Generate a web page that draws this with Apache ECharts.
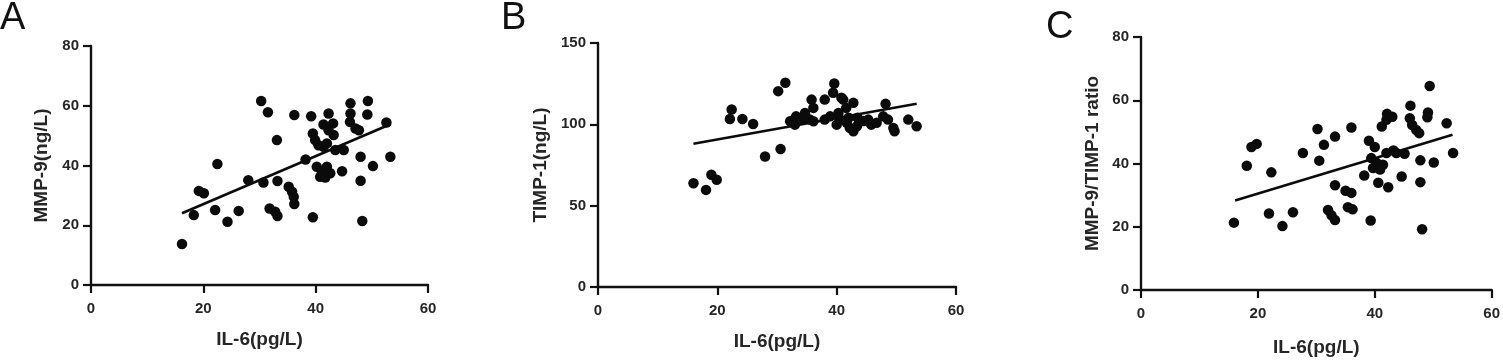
<!DOCTYPE html>
<html>
<head>
<meta charset="utf-8">
<script src="https://cdn.jsdelivr.net/npm/echarts@6/dist/echarts.min.js"></script>
<style>
html,body{margin:0;padding:0;background:#fff;}
#c{width:1503px;height:362px;}
</style>
</head>
<body>
<div id="c"></div>
<script>
// ---- Data ----
const panelLetters = ['A', 'B', 'C'];
const xName = 'IL-6(pg/L)';
const yNames = ['MMP-9(ng/L)', 'TIMP-1(ng/L)', 'MMP-9/TIMP-1 ratio'];
const xTicks = [0, 20, 40, 60];
const yTicksA = [0, 20, 40, 60, 80];
const yTicksB = [0, 50, 100, 150];
const yTicksC = [0, 20, 40, 60, 80];

const pointsA = [
  [16.2,13.7],[18.3,23.4],[19.2,31.5],[20.1,30.7],[22.1,25.1],[22.5,40.5],[24.3,21.2],[26.3,24.8],
  [28.0,35.1],[30.3,61.6],[30.7,34.3],[31.5,57.8],[31.8,25.6],[32.8,24.5],[33.2,23.1],[33.1,48.5],
  [33.2,34.8],[35.2,32.9],[35.8,31.2],[36.1,29.5],[36.2,27.1],[36.2,56.9],[38.2,42.0],[39.2,56.5],
  [39.5,22.7],[39.5,50.7],[39.9,48.5],[40.5,46.8],[41.4,46.3],[42.0,47.4],[40.2,39.6],[41.1,37.9],
  [42.0,39.6],[42.6,37.4],[40.8,36.2],[41.7,36.0],[41.4,53.7],[43.1,54.1],[42.3,51.8],[43.2,50.2],
  [42.3,57.4],[43.5,45.2],[45.0,45.2],[44.7,38.1],[46.2,60.8],[46.2,57.4],[46.1,54.6],[47.1,52.4],
  [47.7,51.8],[48.0,42.9],[48.0,34.9],[48.3,21.4],[49.3,61.6],[49.2,57.1],[50.2,39.8],[52.6,54.4],
  [53.3,42.9]
];
const fitA = [[16.2,24.0],[53.3,53.8]];

const pointsB = [
  [16.0,63.8],[18.1,59.7],[19.0,69.0],[19.9,65.9],[22.1,103.3],[22.4,109.1],[24.2,103.3],[26.0,100.2],
  [28.0,80.2],[30.2,120.4],[30.6,84.8],[31.4,125.6],[32.2,101.9],[33.2,104.9],[33.0,99.8],[32.7,102.5],
  [34.4,102.9],[34.7,107.0],[35.5,102.9],[35.8,115.2],[36.1,110.1],[36.1,101.9],[38.0,115.2],[38.0,102.9],
  [38.9,104.9],[39.4,119.4],[39.6,125.1],[40.3,107.0],[40.5,102.9],[40.0,99.8],[40.8,116.3],[41.1,115.2],
  [41.7,100.9],[42.2,97.8],[42.8,95.7],[42.8,113.2],[43.4,98.8],[41.6,110.1],[42.0,104.0],[43.5,104.0],
  [44.5,102.0],[45.3,102.9],[45.8,99.8],[46.7,100.9],[47.8,104.9],[48.2,112.6],[48.6,102.9],[49.5,97.8],
  [49.7,95.7],[52.0,102.9],[53.4,98.8]
];
const fitB = [[16.0,88.1],[53.4,112.6]];

const pointsC = [
  [15.9,21.3],[18.1,39.3],[18.9,45.2],[19.8,46.2],[22.3,37.2],[21.9,24.2],[24.2,20.2],[26.0,24.6],
  [27.7,43.3],[30.2,50.9],[30.5,40.9],[31.3,45.9],[33.2,48.5],[36.0,51.4],[32.0,25.3],[32.6,23.6],
  [33.2,22.1],[33.2,33.1],[35.0,31.4],[36.0,30.7],[35.4,26.2],[36.2,25.5],[39.3,22.0],[38.2,36.2],
  [39.0,47.2],[40.0,45.2],[39.4,41.7],[40.3,40.2],[41.4,39.6],[39.7,38.6],[40.9,38.1],[40.6,33.9],
  [42.3,32.5],[42.0,43.3],[43.2,44.1],[43.7,43.3],[45.1,43.1],[44.6,35.9],[41.2,51.7],[42.0,53.8],
  [42.1,55.7],[43.0,54.8],[46.1,58.3],[46.0,54.3],[46.4,52.2],[47.1,50.6],[47.6,49.6],[47.8,41.0],
  [47.8,34.1],[48.1,19.2],[49.4,64.5],[49.1,56.1],[49.0,54.6],[50.1,40.3],[52.3,52.7],[53.4,43.3]
];
const fitC = [[16.1,28.3],[53.3,49.1]];

// ---- Layout ----
const grids = [
  {left: 91, right: 1503 - 428, top: 46, bottom: 362 - 285},
  {left: 598, right: 1503 - 956, top: 43, bottom: 362 - 287},
  {left: 1141, right: 1503 - 1492, top: 37, bottom: 362 - 291}
];
const yRanges = [
  {max: yTicksA[yTicksA.length - 1], interval: yTicksA[1] - yTicksA[0]},
  {max: yTicksB[yTicksB.length - 1], interval: yTicksB[1] - yTicksB[0]},
  {max: yTicksC[yTicksC.length - 1], interval: yTicksC[1] - yTicksC[0]}
];
const yNameGaps = [40, 48, 39];
const xNameGaps = [45, 45, 48];
const letterPos = [{left: 0, top: 0}, {left: 501, top: 0}, {left: 1046, top: 9}];

const txt = '#262626';
const fontFamily = 'Liberation Sans, Arial, sans-serif';
const axisStyle = {lineStyle: {color: '#111', width: 2.4}};

const option = {
  animation: false,
  backgroundColor: '#fff',
  title: panelLetters.map((t, i) => ({
    text: t, left: letterPos[i].left, top: letterPos[i].top, padding: 0,
    textStyle: {fontSize: 38, fontWeight: 'normal', color: '#111', fontFamily}
  })),
  grid: grids,
  xAxis: grids.map((g, i) => ({
    gridIndex: i, type: 'value', min: xTicks[0], max: xTicks[xTicks.length - 1],
    interval: xTicks[1] - xTicks[0],
    name: xName, nameLocation: 'middle', nameGap: xNameGaps[i],
    nameTextStyle: {fontSize: 19, fontWeight: 'bold', color: txt, fontFamily},
    axisLine: Object.assign({onZero: false}, axisStyle),
    axisTick: {show: true, length: 8, lineStyle: {color: '#111', width: 2.2}},
    axisLabel: {fontSize: 15, fontWeight: 'bold', color: txt, margin: 16, fontFamily},
    splitLine: {show: false}
  })),
  yAxis: grids.map((g, i) => ({
    gridIndex: i, type: 'value', min: 0, max: yRanges[i].max, interval: yRanges[i].interval,
    name: yNames[i], nameLocation: 'middle', nameGap: yNameGaps[i],
    nameTextStyle: {fontSize: 19, fontWeight: 'bold', color: txt, fontFamily},
    axisLine: Object.assign({show: true, onZero: false}, axisStyle),
    axisTick: {show: true, length: 8, lineStyle: {color: '#111', width: 2.2}},
    axisLabel: {fontSize: 15, fontWeight: 'bold', color: txt, margin: 12, fontFamily},
    splitLine: {show: false}
  })),
  series: [
    {type: 'scatter', xAxisIndex: 0, yAxisIndex: 0, data: pointsA, symbolSize: 10.5, itemStyle: {color: '#0b0b0b', opacity: 1}},
    {type: 'line', xAxisIndex: 0, yAxisIndex: 0, data: fitA, symbol: 'none', lineStyle: {color: '#0b0b0b', width: 2.6}},
    {type: 'scatter', xAxisIndex: 1, yAxisIndex: 1, data: pointsB, symbolSize: 10.5, itemStyle: {color: '#0b0b0b', opacity: 1}},
    {type: 'line', xAxisIndex: 1, yAxisIndex: 1, data: fitB, symbol: 'none', lineStyle: {color: '#0b0b0b', width: 2.6}},
    {type: 'scatter', xAxisIndex: 2, yAxisIndex: 2, data: pointsC, symbolSize: 10.5, itemStyle: {color: '#0b0b0b', opacity: 1}},
    {type: 'line', xAxisIndex: 2, yAxisIndex: 2, data: fitC, symbol: 'none', lineStyle: {color: '#0b0b0b', width: 2.6}}
  ]
};

const chart = echarts.init(document.getElementById('c'), null, {renderer: 'canvas'});
chart.setOption(option);
</script>
</body>
</html>
